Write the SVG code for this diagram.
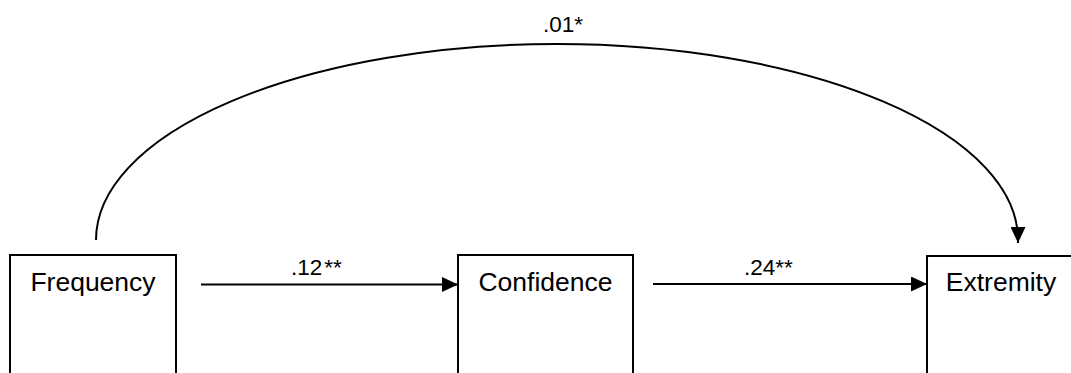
<svg xmlns="http://www.w3.org/2000/svg" width="1071" height="373" viewBox="0 0 1071 373">
<style>
.box{fill:#fff;stroke:#000;stroke-width:2}
.lbl{font-family:"Liberation Sans",Arial,sans-serif;font-size:26.5px;fill:#000;text-anchor:middle}
.coef{font-family:"Liberation Sans",Arial,sans-serif;font-size:22.5px;fill:#000}
.edge{fill:none;stroke:#000;stroke-width:2}
</style>
<defs>
<marker id="arr" viewBox="0 0 16 15" markerUnits="userSpaceOnUse" markerWidth="16" markerHeight="15" refX="16" refY="7.5" orient="auto">
<path d="M0,0 L16,7.5 L0,15 z" fill="#000"/>
</marker>
</defs>
<rect width="1071" height="373" fill="#fff"/>
<g id="frequency">
<rect class="box" x="10" y="255" width="166" height="130"/>
<text class="lbl" x="93" y="291">Frequency</text>
</g>
<g id="confidence">
<rect class="box" x="458" y="255" width="175" height="130"/>
<text class="lbl" x="545.5" y="291">Confidence</text>
</g>
<g id="extremity">
<rect class="box" x="927" y="256" width="160" height="130"/>
<text class="lbl" x="1001" y="291">Extremity</text>
</g>
<g id="connectors">
<path class="edge" d="M201,284.5 H458" marker-end="url(#arr)"/>
<path class="edge" d="M653,284 H927" marker-end="url(#arr)"/>
<path class="edge" d="M96,240 A461,196 0 0 1 1018,240 L1018,243" marker-end="url(#arr)"/>
<text class="coef" x="543" y="32">.01*</text>
<text class="coef" x="291" y="275">.12<tspan dx="2">**</tspan></text>
<text class="coef" x="744" y="275">.24**</text>
</g>
</svg>
